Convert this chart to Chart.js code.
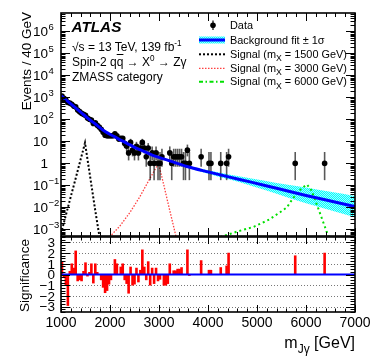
<!DOCTYPE html>
<html><head><meta charset="utf-8">
<script src="https://cdn.jsdelivr.net/npm/chart.js@4/dist/chart.umd.min.js"></script>
<style>
html,body{margin:0;padding:0;background:#fff;width:374px;height:363px;overflow:hidden;font-family:"Liberation Sans",Arial,Helvetica,sans-serif;}
#wrap{position:relative;width:374px;height:363px;}
canvas{position:absolute;left:0;}
#c1{top:0;} #c2{top:236px;}
.t{position:absolute;white-space:nowrap;color:#000;line-height:1;}
.sup{position:relative;font-size:0.68em;top:-0.55em;}
.sub{position:relative;font-size:0.8em;top:0.45em;}
.rot{position:absolute;left:0;top:0;white-space:nowrap;line-height:1;transform-origin:0 0;}
</style></head><body>
<div id="wrap">
<canvas id="c1" width="374" height="240"></canvas>
<canvas id="c2" width="374" height="127"></canvas>

<div class="t" style="left:71.5px;top:18.6px;font-size:15.3px;font-weight:bold;font-style:italic;">ATLAS</div>
<div class="t" style="left:72px;top:40.5px;font-size:12px;">√s = 13 TeV, 139 fb<span class="sup">-1</span></div>
<div class="t" style="left:72px;top:55.7px;font-size:12px;">Spin-2 q<span style="text-decoration:overline">q</span> → X<span class="sup">0</span> → Zγ</div>
<div class="t" style="left:72px;top:71px;font-size:12px;">ZMASS category</div>

<div class="t" style="left:230px;top:19.7px;font-size:10.9px;">Data</div>
<div class="t" style="left:230px;top:34.7px;font-size:10.9px;">Background fit ± 1σ</div>
<div class="t" style="left:230px;top:48.5px;font-size:10.9px;">Signal (m<span class="sub">X</span> = 1500 GeV)</div>
<div class="t" style="left:230px;top:62.5px;font-size:10.9px;">Signal (m<span class="sub">X</span> = 3000 GeV)</div>
<div class="t" style="left:230px;top:76px;font-size:10.9px;">Signal (m<span class="sub">X</span> = 6000 GeV)</div>

<div class="rot" style="font-size:13.5px;width:130px;text-align:right;transform:translate(20px,142px) rotate(-90deg);">Events / 40 GeV</div>
<div class="rot" style="font-size:13.5px;width:120px;text-align:center;transform:translate(18px,335.5px) rotate(-90deg);">Significance</div>
<div class="t" style="right:19px;top:335px;font-size:16px;">m<span class="sub" style="font-size:0.75em;top:0.4em;">Jγ</span> [GeV]</div>
</div>

<script>
// ---------------- data ----------------
const xTickLabels = [1000, 2000, 3000, 4000, 5000, 6000, 7000];
const yDecades = [-3, -2, -1, 0, 1, 2, 3, 4, 5, 6];
const sigTickLabels = [-3, -2, -1, 0, 1, 2, 3];

// background fit and its +-1 sigma band (Events / 40 GeV)
const fitMass = [1000, 1200, 1400, 1550, 1700, 1900, 2100, 2250, 2400, 2570, 2750, 2920, 3200, 3570, 4000, 4400, 4860, 5400, 6000, 6500, 7000];
const fitVal  = [1202, 507, 214, 112, 62, 28.2, 16.0, 10.5, 7.1, 4.57, 3.09, 2.14, 1.34, 0.72, 0.41, 0.25, 0.145, 0.074, 0.035, 0.0195, 0.011];
const fitHi   = [1258, 531, 224, 117, 65, 29.5, 16.8, 11.0, 7.4, 4.8, 3.24, 2.24, 1.45, 0.81, 0.49, 0.32, 0.21, 0.13, 0.080, 0.051, 0.033];
const fitLo   = [1148, 484, 204, 107, 59, 26.9, 15.3, 10.0, 6.8, 4.36, 2.95, 2.04, 1.24, 0.64, 0.34, 0.194, 0.10, 0.042, 0.0153, 0.0074, 0.0036];

// observed events per 40 GeV bin (bin centres)
const dataMass = [1020,1060,1100,1140,1180,1220,1260,1300,1340,1380,1420,1460,1500,1540,1580,1620,1660,1700,1740,1780,1820,1860,1900,1940,1980,2020,2060,2100,2140,2180,2220,2260,2300,2340,2380,2420,2460,2500,2540,2580,2620,2660,2700,2740,2780,2820,2860,2900,2940,2980,3020,3060,3220,3260,3300,3340,3380,3420,3460,3500,3540,3580,3620,3860,4020,4060,4260,4380,4420,5780,6380];
const dataCounts = [1144,920,754,584,560,488,404,370,268,226,189,170,152,115,102,94,66,70,54,45,36,26,19,18,18,18,18,22,18,13,14,14,8,6,3,9,4,3,6,3,5,9,5,2,5,1,3,1,3,1,1,2,3,1,2,2,2,2,2,1,1,4,1,2,1,1,1,1,2,1,1];

// significance per bin
const sigMass = [1020,1060,1100,1140,1180,1220,1260,1300,1340,1380,1420,1460,1500,1540,1580,1620,1660,1700,1740,1780,1820,1860,1900,1940,1980,2020,2060,2100,2140,2180,2220,2260,2300,2340,2380,2420,2460,2500,2540,2580,2620,2660,2700,2740,2780,2820,2860,2900,2940,2980,3020,3060,3100,3140,3180,3220,3260,3300,3340,3380,3420,3460,3500,3540,3580,3620,3860,4020,4060,4260,4380,4420,5780,6380];
const sigVals = [1.2,-0.3,-1.0,-2.9,0.3,1.0,0.6,2.2,-0.6,-0.5,-0.6,0.3,1.1,-0.15,0.2,1.0,-0.8,1.0,0.2,0,-0.5,-1.2,-1.7,-1.5,-0.9,-0.5,0,1.4,1.0,0,0.7,1.0,-0.5,-0.85,-1.75,0.7,-1.0,-0.9,0.6,-0.7,0.4,2.3,0.7,-0.5,1.2,-1.0,0.6,-0.85,0.6,-0.6,-0.45,0,-1.0,-1.0,-0.85,1.0,0,0.35,0.35,0.5,0.5,0.65,0,0,2.3,-0.1,1.3,0.4,0.4,0.65,0.8,2.0,1.75,2.0];

// signal shapes
const sig1500Mass = [1000, 1100, 1200, 1300, 1400, 1450, 1490, 1530, 1580, 1650, 1700, 1790];
const sig1500Val  = [6.3e-4, 4.5e-3, 0.031, 0.21, 1.5, 3.9, 8.5, 2.2, 0.41, 0.038, 0.007, 4.0e-4];
const sig3000Mass = [1990, 2200, 2400, 2600, 2800, 2900, 2990, 3100, 3200, 3300, 3360];
const sig3000Val  = [4.5e-4, 1.4e-3, 5.6e-3, 0.028, 0.18, 0.45, 1.0, 0.1, 0.011, 1.3e-3, 3.5e-4];
const sig6000Mass = [4250, 4600, 4930, 5250, 5470, 5610, 5735, 5910, 6020, 6110, 6250, 6420, 6480];
const sig6000Val  = [4.5e-4, 8e-4, 1.3e-3, 2.8e-3, 6e-3, 1.0e-2, 0.026, 0.074, 0.11, 0.06, 0.009, 8e-4, 4e-4];

// Poisson (Garwood 68%) interval table for small counts, index = n
const poisLo = [0, 0.173, 0.708, 1.367, 2.086, 2.840, 3.620, 4.419, 5.232, 6.057, 6.891];
const poisHi = [1.841, 3.300, 4.638, 5.918, 7.163, 8.382, 9.584, 10.77, 11.95, 13.11, 14.27];

// ---------------- helpers ----------------
const pts = (xs, ys) => xs.map((x, i) => ({x: x, y: ys[i]}));
const FONT = '"Liberation Sans", Arial, sans-serif';

function line(ctx, x1, y1, x2, y2) { ctx.beginPath(); ctx.moveTo(x1, y1); ctx.lineTo(x2, y2); ctx.stroke(); }

function xTicks(ctx, xs, a, major, minor, top) {
  for (let m = xs.min; m <= xs.max + 1e-6; m += 200) {
    const px = Math.round(xs.getPixelForValue(m)) + 0.5;
    const L = (m % 1000 === 0) ? major : minor;
    line(ctx, px, a.bottom, px, a.bottom - L);
    if (top) line(ctx, px, a.top, px, a.top + L);
  }
}

// pattern for the uncertainty band
const pc = document.createElement('canvas'); pc.width = 2; pc.height = 2;
const pcx = pc.getContext('2d');
pcx.fillStyle = '#00ffff'; pcx.fillRect(0, 0, 2, 2);
pcx.fillStyle = '#9ffcff'; pcx.fillRect(0, 0, 1, 1); pcx.fillRect(1, 1, 1, 1);
const bandPattern = document.getElementById('c1').getContext('2d').createPattern(pc, 'repeat');

// ---------------- main panel ----------------
const mainPlugin = {
  id: 'mainDeco',
  beforeDatasetDraw(chart, args) {
    if (args.index !== chart.data.datasets.length - 1) return;
    const ctx = chart.ctx, a = chart.chartArea, xs = chart.scales.x, ys = chart.scales.y;
    ctx.save();
    ctx.beginPath(); ctx.rect(a.left, a.top, a.right - a.left, a.bottom - a.top); ctx.clip();
    ctx.strokeStyle = 'rgba(0,0,0,0.65)'; ctx.lineWidth = 1.6;
    dataCounts.forEach((n, i) => {
      let lo, hi;
      if (n < poisLo.length) { lo = poisLo[n]; hi = poisHi[n]; } else { lo = n - Math.sqrt(n); hi = n + Math.sqrt(n); }
      const px = xs.getPixelForValue(dataMass[i]);
      const y1 = lo > 0 ? ys.getPixelForValue(lo) : a.bottom;
      const y2 = ys.getPixelForValue(hi);
      line(ctx, px, y1, px, y2);
    });
    ctx.restore();
  },
  afterDraw(chart) {
    const ctx = chart.ctx, a = chart.chartArea, xs = chart.scales.x, ys = chart.scales.y;
    ctx.save();
    ctx.strokeStyle = '#000'; ctx.lineWidth = 1;
    xTicks(ctx, xs, a, 8, 4, true);
    for (let e = -4; e <= 7; e++) for (let d = 1; d <= 9; d++) {
      const v = d * Math.pow(10, e);
      if (v < ys.min || v > ys.max) continue;
      const py = Math.round(ys.getPixelForValue(v)) + 0.5;
      const L = d === 1 ? 9 : 4.5;
      line(ctx, a.left, py, a.left + L, py);
      line(ctx, a.right, py, a.right - L, py);
    }
    ctx.lineWidth = 1.6;
    ctx.strokeRect(a.left, a.top, a.right - a.left, a.bottom - a.top);
    // y labels
    ctx.fillStyle = '#000'; ctx.textBaseline = 'middle';
    yDecades.forEach(e => {
      const py = ys.getPixelForValue(Math.pow(10, e));
      if (e === 0 || e === 1) {
        ctx.font = '13.5px ' + FONT; ctx.textAlign = 'right';
        ctx.fillText(e === 0 ? '1' : '10', 48, py + 1);
      } else {
        ctx.font = '13.5px ' + FONT; ctx.textAlign = 'right';
        ctx.fillText('10', 48, py + 1);
        ctx.font = '9.5px ' + FONT; ctx.textAlign = 'left';
        ctx.fillText(e < 0 ? '\u2212' + (-e) : String(e), 48.5, py - 4);
      }
    });
    // legend symbols
    ctx.strokeStyle = '#000'; ctx.lineWidth = 1.2;
    line(ctx, 213, 20.5, 213, 30);
    ctx.beginPath(); ctx.arc(213, 25.3, 2.8, 0, Math.PI * 2); ctx.fill();
    ctx.fillStyle = bandPattern; ctx.fillRect(199, 36.5, 26, 7);
    ctx.strokeStyle = '#0000ff'; ctx.lineWidth = 3; line(ctx, 199, 40, 225, 40);
    ctx.lineWidth = 2; ctx.strokeStyle = '#000'; ctx.setLineDash([2, 2]); line(ctx, 199, 54.3, 225, 54.3);
    ctx.lineWidth = 1.3; ctx.strokeStyle = '#ff4040'; ctx.setLineDash([1.5, 1.5]); line(ctx, 199, 68.3, 225, 68.3);
    ctx.lineWidth = 2; ctx.strokeStyle = '#00e000'; ctx.setLineDash([4, 2.5, 1.5, 2.5]); line(ctx, 199, 81.7, 225, 81.7);
    ctx.restore();
  }
};

new Chart(document.getElementById('c1'), {
  type: 'scatter',
  data: { datasets: [
    { data: pts(fitMass, fitLo), showLine: true, pointRadius: 0, borderWidth: 0, borderColor: 'rgba(0,0,0,0)', fill: false, order: 5, cubicInterpolationMode: 'monotone' },
    { data: pts(fitMass, fitHi), showLine: true, pointRadius: 0, borderWidth: 0, borderColor: 'rgba(0,0,0,0)', fill: '-1', backgroundColor: bandPattern, order: 5, cubicInterpolationMode: 'monotone' },
    { data: pts(sig1500Mass, sig1500Val), showLine: true, pointRadius: 0, borderColor: '#000', borderWidth: 2, borderDash: [2, 2], order: 4 },
    { data: pts(sig3000Mass, sig3000Val), showLine: true, pointRadius: 0, borderColor: '#ff4040', borderWidth: 1.3, borderDash: [1.5, 1.5], order: 4 },
    { data: pts(sig6000Mass, sig6000Val), showLine: true, pointRadius: 0, borderColor: '#00e000', borderWidth: 2, borderDash: [2, 3], order: 4 },
    { data: pts(fitMass, fitVal), showLine: true, pointRadius: 0, borderColor: '#0000ff', borderWidth: 3, order: 1, cubicInterpolationMode: 'monotone' },
    { data: pts(dataMass, dataCounts), showLine: false, pointRadius: 2.8, pointBackgroundColor: '#000', pointBorderWidth: 0, order: 3 }
  ]},
  options: {
    responsive: false, animation: false, devicePixelRatio: 1,
    layout: { padding: { left: 0, right: 19, top: 13, bottom: 0 } },
    plugins: { legend: { display: false }, tooltip: { enabled: false } },
    scales: {
      x: { type: 'linear', min: 1000, max: 7000, ticks: { display: false }, grid: { display: false }, border: { display: false }, afterFit(s) { s.height = 4; } },
      y: { type: 'logarithmic', min: 5.0e-4, max: 6.9e6, ticks: { display: false }, grid: { display: false }, border: { display: false }, afterFit(s) { s.width = 61; } }
    }
  },
  plugins: [mainPlugin]
});

// ---------------- significance panel ----------------
const ratioPlugin = {
  id: 'ratioDeco',
  beforeDatasetsDraw(chart) {
    const ctx = chart.ctx, a = chart.chartArea, ys = chart.scales.y;
    ctx.save();
    ctx.strokeStyle = '#777'; ctx.lineWidth = 1; ctx.setLineDash([1, 2]);
    [-3, -2, -1, 1, 2, 3].forEach(v => { const py = Math.round(ys.getPixelForValue(v)) + 0.5; line(ctx, a.left, py, a.right, py); });
    ctx.restore();
  },
  afterDraw(chart) {
    const ctx = chart.ctx, a = chart.chartArea, xs = chart.scales.x, ys = chart.scales.y;
    ctx.save();
    ctx.strokeStyle = '#000'; ctx.lineWidth = 1;
    xTicks(ctx, xs, a, 7, 3.5, true);
    for (let v = -3.5; v <= 3.5 + 1e-6; v += 0.25) {
      const py = Math.round(ys.getPixelForValue(v)) + 0.5;
      const isMaj = Math.abs(v - Math.round(v)) < 1e-6;
      const L = isMaj ? 9 : 4.5;
      line(ctx, a.left, py, a.left + L, py);
      line(ctx, a.right, py, a.right - L, py);
    }
    ctx.lineWidth = 1.6;
    ctx.strokeRect(a.left, a.top, a.right - a.left, a.bottom - a.top);
    ctx.fillStyle = '#000'; ctx.textBaseline = 'middle'; ctx.font = '13.5px ' + FONT;
    ctx.textAlign = 'right';
    sigTickLabels.forEach(v => { ctx.fillText(v < 0 ? '\u2212' + (-v) : String(v), 55, ys.getPixelForValue(v) + 1); });
    ctx.textAlign = 'center'; ctx.font = '14px ' + FONT;
    xTickLabels.forEach(m => { ctx.fillText(String(m), xs.getPixelForValue(m), 87.5); });
    ctx.restore();
  }
};

new Chart(document.getElementById('c2'), {
  type: 'bar',
  data: { datasets: [
    { type: 'line', data: [{x: 1000, y: 0}, {x: 7000, y: 0}], borderColor: '#0000ff', borderWidth: 2, pointRadius: 0, order: 0 },
    { type: 'bar', data: pts(sigMass, sigVals), backgroundColor: '#ff0000', barPercentage: 1, categoryPercentage: 1, order: 1 }
  ]},
  options: {
    responsive: false, animation: false, devicePixelRatio: 1,
    layout: { padding: { left: 0, right: 19, top: 1, bottom: 0 } },
    plugins: { legend: { display: false }, tooltip: { enabled: false } },
    scales: {
      x: { type: 'linear', min: 1000, max: 7000, offset: false, ticks: { display: false }, grid: { display: false }, border: { display: false }, afterFit(s) { s.height = 51; } },
      y: { min: -3.5, max: 3.5, ticks: { display: false }, grid: { display: false }, border: { display: false }, afterFit(s) { s.width = 61; } }
    }
  },
  plugins: [ratioPlugin]
});
</script>
</body></html>
